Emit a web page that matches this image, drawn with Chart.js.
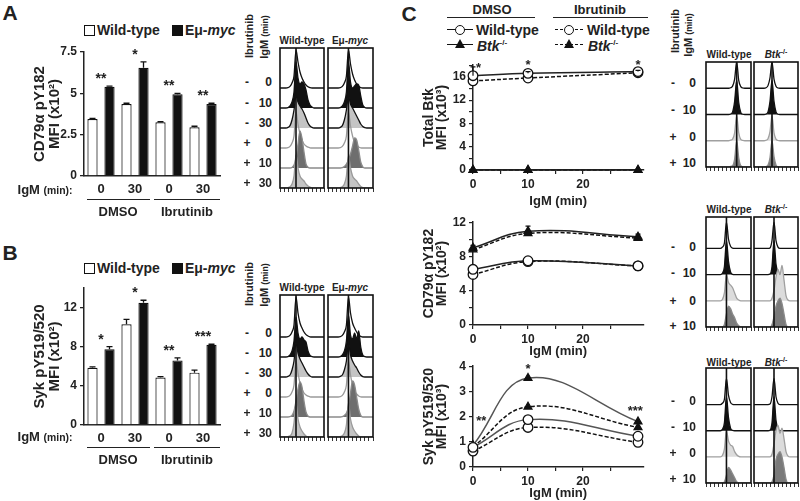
<!DOCTYPE html>
<html>
<head>
<meta charset="utf-8">
<script src="https://cdn.jsdelivr.net/npm/chart.js@4.4.1/dist/chart.umd.min.js"></script>
<style>
  body { margin: 0; background: #fff; }
  #fig { position: relative; width: 800px; height: 501px; overflow: hidden; background: #fff;
         font-family: "Liberation Sans", Arial, Helvetica, sans-serif; font-weight: bold; color: #222; }
  #fig canvas { position: absolute; }
  .t  { position: absolute; white-space: nowrap; line-height: 1; transform: translate(-50%, -50%); }
  .tl { transform: translate(0, -50%); }
  .tr { transform: translate(-100%, -50%); }
  .rot { transform: translate(-50%, -50%) rotate(-90deg); }
  .rule { position: absolute; height: 0; border-top: 1.5px solid #222; }
  .sq { display: inline-block; width: 9px; height: 9px; border: 1.3px solid #111; background: #fff;
        margin-right: 2px; vertical-align: -1px; }
  .sq.k { background: #111; margin-left: 12px; }
  .small { font-size: 0.8em; }
</style>
</head>
<body>
<div id="fig"></div>
<script>
/* ── data: bar panels A and B ───────────────────────────────────────────── */
var barLabels   = ["0", "30", "0", "30"];

var cd79WT      = [3.45, 4.35, 3.25, 2.95];
var cd79WTErr   = [0.03, 0.05, 0.03, 0.06];
var cd79Myc     = [5.4, 6.55, 4.95, 4.35];
var cd79MycErr  = [0.03, 0.35, 0.05, 0.05];
var cd79Stars   = ["**", "*", "**", "**"];

var sykWT       = [5.85, 10.3, 4.85, 5.35];
var sykWTErr    = [0.1, 0.5, 0.1, 0.25];
var sykMyc      = [7.75, 12.5, 6.6, 8.2];
var sykMycErr   = [0.25, 0.25, 0.25, 0.05];
var sykStars    = ["*", "*", "**", "***"];

/* ── data: line panels C ────────────────────────────────────────────────── */
var igmMin      = [0, 10, 30];

var btkWtDmso   = [16.2, 16.6, 16.9];
var btkWtDmsoE  = [1.5, 0.3, 0.2];
var btkKoDmso   = [0, 0, 0];
var btkWtIbr    = [15.3, 15.8, 16.7];
var btkKoIbr    = [0, 0, 0];
var btkStarX    = [1, 10, 30];
var btkStarY    = [18.0, 18.5, 18.6];
var btkStarT    = ["*", "*", "*"];

var cd79WtDmso  = [6.5, 7.5, 6.9];
var cd79KoDmso  = [9.0, 10.95, 10.3];
var cd79KoDmsoE = [0.3, 0.6, 0.3];
var cd79WtIbr   = [5.9, 7.4, 6.9];
var cd79KoIbr   = [8.8, 10.7, 10.15];

var sykWtDmso   = [0.78, 1.88, 1.22];
var sykKoDmso   = [0.86, 3.53, 1.8];
var sykWtIbr    = [0.63, 1.57, 0.98];
var sykKoIbr    = [0.8, 2.39, 1.57];
var sykStarX    = [1.5, 10, 29.5];
var sykStarY    = [1.96, 4.0, 2.36];
var sykStarT    = ["**", "*", "***"];

/* ── data: flow histograms (row heights, in row-spacing units) ──────────── */
var rowsAB = [["-", "0"], ["-", "10"], ["-", "30"], ["+", "0"], ["+", "10"], ["+", "30"]];
var rowsC  = [["-", "0"], ["-", "10"], ["+", "0"], ["+", "10"]];

var histAwt = [
  [0,0,0,0,.02,.08,.25,.6,1.9,1.3,.8,.5,.3,.15,.06,.02,0,0,0,0,0,0,0],
  [0,0,0,0,.02,.1,.3,.8,2.3,1.5,1.2,1.3,1.2,.9,.4,.15,.05,0,0,0,0,0,0],
  [0,0,0,0,.03,.12,.4,.9,1.6,1.3,1.1,.95,.75,.5,.25,.1,.03,0,0,0,0,0,0],
  [0,0,0,0,.02,.08,.25,.6,1.8,1.2,.7,.4,.2,.1,.04,.01,0,0,0,0,0,0,0],
  [0,0,0,0,0,0,.03,.15,.5,1.2,1.85,1.5,.8,.2,.04,0,0,0,0,0,0,0,0],
  [0,0,0,0,.02,.06,.2,.6,1.65,1,.6,.45,.35,.2,.1,.04,0,0,0,0,0,0,0]
];
var histAmyc = [
  [0,0,0,0,0,0,.02,.08,.25,.6,1.9,1.2,.7,.4,.2,.08,.02,0,0,0,0,0,0],
  [0,0,0,0,0,0,.02,.1,.3,.8,2.3,1.3,1,1.1,1.2,1.15,.6,.15,.03,0,0,0,0],
  [0,0,0,0,0,0,.03,.12,.4,.9,1.6,1.2,1,.8,.6,.4,.2,.08,.02,0,0,0,0],
  [0,0,0,0,0,0,.02,.08,.25,.6,1.8,1.1,.6,.3,.15,.05,.01,0,0,0,0,0,0],
  [0,0,0,0,0,0,0,.02,.08,.2,.4,.7,1.1,1.5,1.4,.9,.3,.06,0,0,0,0,0],
  [0,0,0,0,0,0,.02,.06,.2,.6,1.6,1,.6,.45,.35,.2,.08,.02,0,0,0,0,0]
];
var histBwt = [
  [0,0,0,0,.02,.08,.25,.6,2,1.2,.7,.45,.25,.12,.05,.01,0,0,0,0,0,0,0],
  [0,0,0,0,.02,.1,.3,.8,2,1.2,.9,1,.85,.75,.3,.08,.02,0,0,0,0,0,0],
  [0,0,0,0,.03,.1,.35,.8,1.7,1.2,.9,.7,.5,.3,.15,.05,0,0,0,0,0,0,0],
  [0,0,0,0,.02,.08,.25,.6,1.8,1.2,.7,.4,.2,.1,.04,.01,0,0,0,0,0,0,0],
  [0,0,0,0,0,.02,.08,.3,.8,1.4,1.75,1.5,.8,.25,.05,0,0,0,0,0,0,0,0],
  [0,0,0,0,.02,.06,.2,.7,1.7,.9,.5,.3,.15,.05,0,0,0,0,0,0,0,0,0]
];
var histBmyc = [
  [0,0,0,0,0,0,.02,.08,.25,.6,2,1.2,.7,.45,.25,.1,.03,0,0,0,0,0,0],
  [0,0,0,0,0,0,.02,.1,.3,.8,2.1,1.1,.9,1.2,.9,1.3,.5,.1,.02,0,0,0,0],
  [0,0,0,0,0,0,.03,.1,.35,.8,1.7,1.1,.8,.6,.45,.25,.1,.02,0,0,0,0,0],
  [0,0,0,0,0,0,.02,.08,.25,.6,1.8,1.1,.6,.3,.15,.05,.01,0,0,0,0,0,0],
  [0,0,0,0,0,0,0,.02,.08,.2,.5,1.2,1.8,1.6,1,.4,.08,0,0,0,0,0,0],
  [0,0,0,0,0,0,.02,.06,.2,.6,1.7,.9,.5,.3,.15,.05,0,0,0,0,0,0,0]
];
var histC1wt = [
  [0,0,0,0,0,0,0,0,0,0,0,0,.02,.08,.35,1,.3,.06,.01,0,0,0,0],
  [0,0,0,0,0,0,0,0,0,0,0,0,.02,.1,.5,1.3,.45,.08,.01,0,0,0,0],
  [0,0,0,0,0,0,0,0,0,0,0,0,.02,.06,.3,.95,.3,.05,.01,0,0,0,0],
  [0,0,0,0,0,0,0,0,0,0,0,0,.02,.05,.3,1,.35,.05,.01,0,0,0,0]
];
var histC1ko = [
  [0,0,0,0,0,0,.02,.1,.4,1,.35,.08,.01,0,0,0,0,0,0,0,0,0,0],
  [0,0,0,0,0,0,.02,.1,.5,1.3,.5,.1,.01,0,0,0,0,0,0,0,0,0,0],
  [0,0,0,0,0,0,.02,.08,.35,.95,.3,.06,.01,0,0,0,0,0,0,0,0,0,0],
  [0,0,0,0,0,0,.02,.08,.35,1,.4,.08,.01,0,0,0,0,0,0,0,0,0,0]
];
var histC2wt = [
  [0,0,0,0,0,0,0,0,.05,.2,1,.35,.08,.01,0,0,0,0,0,0,0,0,0],
  [0,0,0,0,0,0,0,0,.05,.3,1.3,.5,.1,.01,0,0,0,0,0,0,0,0,0],
  [0,0,0,0,0,0,0,0,.05,.3,1,.7,.6,.5,.3,.1,.03,0,0,0,0,0,0],
  [0,0,0,0,0,0,0,0,0,.1,.5,.8,.7,.5,.35,.15,.05,0,0,0,0,0,0]
];
var histC2ko = [
  [0,0,0,0,0,0,0,0,.02,.3,1,.3,.05,0,0,0,0,0,0,0,0,0,0],
  [0,0,0,0,0,0,0,0,.02,.3,1.3,.4,.08,0,0,0,0,0,0,0,0,0,0],
  [0,0,0,0,0,0,0,0,0,.1,.4,.9,1.2,1,1.35,.8,.2,.03,0,0,0,0,0],
  [0,0,0,0,0,0,0,0,0,.1,.4,.8,1,1.1,.9,.5,.1,0,0,0,0,0,0]
];
var histC3wt = [
  [0,0,0,0,0,0,0,0,.05,.2,1,.35,.08,.01,0,0,0,0,0,0,0,0,0],
  [0,0,0,0,0,0,0,0,.05,.3,1.3,.5,.1,.01,0,0,0,0,0,0,0,0,0],
  [0,0,0,0,0,0,0,0,.05,.3,1,.6,.45,.4,.2,.08,.02,0,0,0,0,0,0],
  [0,0,0,0,0,0,0,0,0,.05,.3,.6,.5,.35,.2,.05,0,0,0,0,0,0,0]
];
var histC3ko = [
  [0,0,0,0,0,0,0,0,.02,.3,1,.3,.05,0,0,0,0,0,0,0,0,0,0],
  [0,0,0,0,0,0,0,0,.02,.3,1.3,.4,.08,0,0,0,0,0,0,0,0,0,0],
  [0,0,0,0,0,0,0,0,0,.1,.5,1,1.2,.9,1.1,.7,.2,.03,0,0,0,0,0],
  [0,0,0,0,0,0,0,0,0,.05,.3,.9,1.1,1.2,1,.6,.15,0,0,0,0,0,0]
];

// Row styles (outline colour, fill colour) — top row first.
var stylesAB = [
  { line: "#111", fill: null },
  { line: "#111", fill: "#111" },
  { line: "#111", fill: "#c4c4c4" },
  { line: "#9a9a9a", fill: null },
  { line: "#8a8a8a", fill: "#6e6e6e" },
  { line: "#9a9a9a", fill: "#c4c4c4" }
];
var stylesC = [
  { line: "#111", fill: null },
  { line: "#111", fill: "#111" },
  { line: "#a0a0a0", fill: "#dcdcdc" },
  { line: "#8a8a8a", fill: "#7a7a7a" }
];

/* ── helpers ────────────────────────────────────────────────────────────── */
var FONT = '"Liberation Sans", Arial, Helvetica, sans-serif';
Chart.defaults.font.family = FONT;
Chart.defaults.font.weight = "bold";
Chart.defaults.color = "#222";

var fig = document.getElementById("fig");

function makeCanvas(left, top, w, h) {
  var c = document.createElement("canvas");
  c.width = w; c.height = h;
  c.style.left = left + "px"; c.style.top = top + "px";
  c.style.width = w + "px"; c.style.height = h + "px";
  fig.appendChild(c);
  return c;
}

function text(html, x, y, size, cls) {
  var d = document.createElement("div");
  d.className = "t" + (cls ? " " + cls : "");
  d.style.left = x + "px"; d.style.top = y + "px";
  d.style.fontSize = size + "px";
  d.innerHTML = html;
  fig.appendChild(d);
  return d;
}

function rule(x1, x2, y) {
  var d = document.createElement("div");
  d.className = "rule";
  d.style.left = x1 + "px"; d.style.top = y + "px"; d.style.width = (x2 - x1) + "px";
  fig.appendChild(d);
}

/* ── bar chart (panels A, B) ────────────────────────────────────────────── */
function barChart(o) {
  var cv = makeCanvas(o.left, o.top, o.width, o.height);

  // Upward error bars and significance stars, positioned through the scales.
  var marks = {
    id: "marks",
    afterDatasetsDraw: function(chart) {
      var ctx = chart.ctx, ys = chart.scales.y, xs = chart.scales.x;
      ctx.save();
      ctx.strokeStyle = "#111"; ctx.lineWidth = 1.3;
      chart.data.datasets.forEach(function(ds, di) {
        var meta = chart.getDatasetMeta(di);
        ds.data.forEach(function(v, i) {
          var e = ds.errors[i];
          var bx = meta.data[i].x;
          var y0 = ys.getPixelForValue(v), y1 = ys.getPixelForValue(v + e);
          ctx.beginPath();
          ctx.moveTo(bx, y0); ctx.lineTo(bx, y1);
          ctx.moveTo(bx - 3, y1); ctx.lineTo(bx + 3, y1);
          ctx.stroke();
        });
      });
      ctx.fillStyle = "#222";
      ctx.font = "bold 14px " + FONT;
      ctx.textAlign = "center"; ctx.textBaseline = "alphabetic";
      o.stars.forEach(function(s, i) {
        var top = 0;
        chart.data.datasets.forEach(function(ds) { top = Math.max(top, ds.data[i] + ds.errors[i]); });
        ctx.fillText(s, xs.getPixelForValue(i), ys.getPixelForValue(top) - 3);
      });
      ctx.restore();
    }
  };

  new Chart(cv, {
    type: "bar",
    data: {
      labels: barLabels,
      datasets: [
        { data: o.wt,  errors: o.wtErr,  backgroundColor: "#fff", borderColor: "#111", borderWidth: 1.2 },
        { data: o.myc, errors: o.mycErr, backgroundColor: "#111", borderColor: "#111", borderWidth: 1.2 }
      ]
    },
    options: {
      responsive: false, animation: false, events: [],
      layout: { padding: { top: o.padTop, right: o.padRight, left: 0, bottom: 0 } },
      datasets: { bar: { categoryPercentage: 1, barPercentage: 0.6 } },
      plugins: { legend: { display: false }, tooltip: { enabled: false } },
      scales: {
        x: {
          grid: { display: false, drawTicks: false },
          border: { display: true, color: "#222", width: 1.5 },
          ticks: { padding: 6, color: "#222", font: { size: 13, weight: "bold" } },
          afterFit: function(s) { s.height = o.xAxisH; }
        },
        y: {
          min: 0, max: o.yMax,
          ticks: { stepSize: o.yStep, padding: 3, color: "#222", font: { size: 12, weight: "bold" } },
          afterBuildTicks: function(s) {
            s.ticks = s.ticks.filter(function(t) { return Math.abs(t.value / o.yStep - Math.round(t.value / o.yStep)) < 1e-6; });
          },
          grid: { drawOnChartArea: false, tickLength: 4, color: "#222", lineWidth: 1.3 },
          border: { display: true, color: "#222", width: 1.5 },
          title: { display: true, text: o.yTitle, color: "#222", padding: { top: 32 },
                   font: { size: 15, weight: "bold", lineHeight: 1.0 } },
          afterFit: function(s) { s.width = o.yAxisW; }
        }
      }
    },
    plugins: [marks]
  });
}

/* ── line chart (panel C) ───────────────────────────────────────────────── */
function lineChart(o) {
  var cv = makeCanvas(o.left, o.top, o.width, o.height);

  function series(vals, dashed, tri, color) {
    return {
      data: igmMin.map(function(x, i) { return { x: x, y: vals[i] }; }),
      borderColor: color, borderWidth: 1.5, borderDash: dashed ? [4, 2] : [],
      pointStyle: tri ? "triangle" : "circle",
      pointRadius: tri ? 4.5 : 4.8,
      pointBackgroundColor: tri ? "#111" : "#fff",
      pointBorderColor: "#111", pointBorderWidth: 1.3,
      tension: 0.4, clip: false
    };
  }

  var marks = {
    id: "marks",
    afterDatasetsDraw: function(chart) {
      var ctx = chart.ctx, xs = chart.scales.x, ys = chart.scales.y;
      ctx.save();
      ctx.strokeStyle = "#111"; ctx.lineWidth = 1.2;
      o.errors.forEach(function(errs, di) {
        if (!errs) return;
        var vals = o.sets[di].vals;
        errs.forEach(function(e, i) {
          var px = xs.getPixelForValue(igmMin[i]);
          var y0 = ys.getPixelForValue(vals[i]), y1 = ys.getPixelForValue(vals[i] + e);
          ctx.beginPath();
          ctx.moveTo(px, y0); ctx.lineTo(px, y1);
          ctx.moveTo(px - 2.5, y1); ctx.lineTo(px + 2.5, y1);
          ctx.stroke();
        });
      });
      if (o.starX) {
        ctx.fillStyle = "#222";
        ctx.font = "bold 13px " + FONT;
        ctx.textAlign = "center"; ctx.textBaseline = "alphabetic";
        o.starX.forEach(function(sx, i) {
          ctx.fillText(o.starT[i], xs.getPixelForValue(sx), ys.getPixelForValue(o.starY[i]) + 7);
        });
      }
      ctx.restore();
    }
  };

  new Chart(cv, {
    type: "line",
    data: {
      datasets: o.sets.map(function(s) { return series(s.vals, s.dashed, s.tri, s.dashed ? "#111" : o.solidColor); })
    },
    options: {
      responsive: false, animation: false, events: [],
      layout: { padding: { top: o.padTop, right: o.padRight, left: 0, bottom: 0 } },
      plugins: { legend: { display: false }, tooltip: { enabled: false } },
      scales: {
        x: {
          type: "linear", min: 0, max: 31,
          ticks: {
            stepSize: 5, padding: 3, color: "#222", maxRotation: 0, autoSkip: false,
            font: { size: 12, weight: "bold" },
            callback: function(v) { return v % 10 === 0 ? v : ""; }
          },
          afterBuildTicks: function(s) { s.ticks = s.ticks.filter(function(t) { return t.value % 5 === 0; }); },
          grid: { drawOnChartArea: false, tickLength: 4, color: "#222", lineWidth: 1.2 },
          border: { display: true, color: "#222", width: 1.5 },
          title: { display: true, text: "IgM (min)", color: "#222", padding: { top: 0, bottom: o.xTitlePad },
                   font: { size: 13, weight: "bold" } },
          afterFit: function(s) { s.height = o.xAxisH; }
        },
        y: {
          min: 0, max: o.yMax,
          ticks: {
            stepSize: o.yStep, padding: 3, color: "#222", autoSkip: false,
            font: { size: 12, weight: "bold" },
            callback: function(v) { return Math.abs(v % o.yLabelStep) < 1e-6 ? v : ""; }
          },
          grid: { drawOnChartArea: false, tickLength: 4, color: "#222", lineWidth: 1.2 },
          border: { display: true, color: "#222", width: 1.5 },
          title: { display: true, text: o.yTitle, color: "#222", padding: { top: 23 },
                   font: { size: 14, weight: "bold", lineHeight: 0.9 } },
          afterFit: function(s) { s.width = o.yAxisW; }
        }
      }
    },
    plugins: [marks]
  });
}

/* ── offset flow histogram box ──────────────────────────────────────────── */
function histogram(o) {
  var n = o.rows.length;
  var cv = makeCanvas(o.x - 1, o.y - 1, o.w + 2, o.h + 6);

  var frame = {
    id: "frame",
    afterDatasetsDraw: function(chart) {
      var a = chart.chartArea, ctx = chart.ctx;
      var lx = chart.scales.x.getPixelForValue(o.lineAt);
      ctx.save();
      ctx.strokeStyle = "#111"; ctx.lineWidth = 1.6;
      ctx.beginPath(); ctx.moveTo(lx, a.top); ctx.lineTo(lx, a.bottom); ctx.stroke();
      ctx.strokeRect(a.left, a.top, a.right - a.left, a.bottom - a.top);
      ctx.restore();
    }
  };

  new Chart(cv, {
    type: "line",
    data: {
      datasets: o.rows.map(function(prof, i) {
        var base = n - 1 - i;
        var st = o.styles[i];
        return {
          data: prof.map(function(v, k) { return { x: k, y: base + v }; }),
          borderColor: st.line, borderWidth: 1.3,
          backgroundColor: st.fill || "rgba(0,0,0,0)",
          fill: st.fill ? { value: base } : false,
          pointRadius: 0, cubicInterpolationMode: "monotone",
          order: -i   // lower rows are drawn in front
        };
      })
    },
    options: {
      responsive: false, animation: false, events: [],
      layout: { padding: { left: 1, right: 1, top: 1, bottom: 0 } },
      plugins: { legend: { display: false }, tooltip: { enabled: false } },
      scales: {
        x: {
          type: "linear", min: 0, max: o.rows[0].length - 1,
          ticks: { display: false, stepSize: 2 },
          grid: { drawOnChartArea: false, tickLength: 4, color: "#333", lineWidth: 1 },
          border: { display: false },
          afterFit: function(s) { s.height = 5; }
        },
        y: { display: false, min: 0, max: o.yTop }
      }
    },
    plugins: [frame]
  });
}

function rowLabels(rows, ys, signX, numRight, size) {
  rows.forEach(function(r, i) {
    text(r[0], signX, ys[i], size);
    text(r[1], numRight, ys[i], size, "tr");
  });
}

/* ── panel A ────────────────────────────────────────────────────────────── */
text("A", 10, 12, 21);
text('<span class="sq"></span>Wild-type<span class="sq k"></span>E&mu;-<i>myc</i>', 84, 30, 14, "tl");
barChart({
  left: 0, top: 40, width: 232, height: 166, padTop: 12, padRight: 12, yAxisW: 84, xAxisH: 30,
  yMax: 7.5, yStep: 2.5, wt: cd79WT, wtErr: cd79WTErr, myc: cd79Myc, mycErr: cd79MycErr,
  stars: cd79Stars, yTitle: ["CD79\u03b1 pY182", "MFI (x10\u00b2)"]
});
text('IgM <span class="small">(min):</span>', 45, 190, 13);
rule(87, 150, 199); rule(154, 220, 199);
text("DMSO", 118, 211, 13); text("Ibrutinib", 187, 211, 13);

text("Ibrutinib", 249, 36, 11, "rot");
text('IgM <span class="small">(min)</span>', 264, 37, 11, "rot");
text("Wild-type", 302, 41, 10);
text("E&mu;-<i>myc</i>", 350, 41, 10);
histogram({ x: 280, y: 48, w: 44, h: 140, yTop: 7, rows: histAwt,  styles: stylesAB, lineAt: 8 });
histogram({ x: 328, y: 48, w: 45, h: 140, yTop: 7, rows: histAmyc, styles: stylesAB, lineAt: 10 });
rowLabels(rowsAB, [82, 103, 123, 143, 163, 183], 247, 272, 12);

/* ── panel B ────────────────────────────────────────────────────────────── */
text("B", 10, 252, 21);
text('<span class="sq"></span>Wild-type<span class="sq k"></span>E&mu;-<i>myc</i>', 84, 268, 14, "tl");
barChart({
  left: 0, top: 276, width: 232, height: 179, padTop: 12, padRight: 12, yAxisW: 84, xAxisH: 30,
  yMax: 14, yStep: 4, wt: sykWT, wtErr: sykWTErr, myc: sykMyc, mycErr: sykMycErr,
  stars: sykStars, yTitle: ["Syk pY519/520", "MFI (x10\u00b2)"]
});
text('IgM <span class="small">(min):</span>', 45, 437, 13);
rule(87, 150, 447); rule(154, 220, 447);
text("DMSO", 118, 459, 13); text("Ibrutinib", 187, 459, 13);

text("Ibrutinib", 249, 284, 11, "rot");
text('IgM <span class="small">(min)</span>', 264, 285, 11, "rot");
text("Wild-type", 302, 288, 10);
text("E&mu;-<i>myc</i>", 350, 288, 10);
histogram({ x: 280, y: 295, w: 44, h: 142, yTop: 7.1, rows: histBwt,  styles: stylesAB, lineAt: 8 });
histogram({ x: 328, y: 295, w: 45, h: 142, yTop: 7.1, rows: histBmyc, styles: stylesAB, lineAt: 10 });
rowLabels(rowsAB, [333, 353, 373, 393, 413, 433], 247, 272, 12);

/* ── panel C: legend ────────────────────────────────────────────────────── */
text("C", 409, 13, 21);
text("DMSO", 492, 9, 13); rule(447, 535, 17);
text("Ibrutinib", 600, 9, 13); rule(553, 648, 17);

function legendSample(x1, x2, y, dashed, tri) {
  var l = document.createElement("div");
  l.style.cssText = "position:absolute;left:" + x1 + "px;top:" + (y - 1) + "px;width:" + (x2 - x1) +
    "px;height:0;border-top:1.6px " + (dashed ? "dashed" : "solid") + " #111;";
  fig.appendChild(l);
  var m = document.createElement("div");
  var cx = (x1 + x2) / 2;
  if (tri) {
    m.style.cssText = "position:absolute;left:" + (cx - 5) + "px;top:" + (y - 6) + "px;width:0;height:0;" +
      "border-left:5px solid transparent;border-right:5px solid transparent;border-bottom:9px solid #111;";
  } else {
    m.style.cssText = "position:absolute;left:" + (cx - 5) + "px;top:" + (y - 5) + "px;width:8px;height:8px;" +
      "border:1.3px solid #111;border-radius:50%;background:#fff;";
  }
  fig.appendChild(m);
}
legendSample(447, 473, 30, false, false);
legendSample(447, 473, 45, false, true);
legendSample(555, 583, 30, true, false);
legendSample(555, 583, 45, true, true);
text("Wild-type", 476, 30, 14, "tl");
text("<i>Btk</i><sup style='font-size:8px'>-/-</sup>", 477, 46, 14, "tl");
text("Wild-type", 587, 30, 14, "tl");
text("<i>Btk</i><sup style='font-size:8px'>-/-</sup>", 588, 46, 14, "tl");

/* ── panel C: line charts ───────────────────────────────────────────────── */
lineChart({
  left: 400, top: 55, width: 250, height: 155, padTop: 9, padRight: 6.5, yAxisW: 73, xAxisH: 40, xTitlePad: 1,
  yMax: 18, yStep: 2, yLabelStep: 4, solidColor: "#222",
  yTitle: ["Total Btk", "MFI (x10\u00b3)"],
  sets: [
    { vals: btkWtDmso, dashed: false, tri: false },
    { vals: btkKoDmso, dashed: false, tri: true },
    { vals: btkWtIbr,  dashed: true,  tri: false },
    { vals: btkKoIbr,  dashed: true,  tri: true }
  ],
  errors: [btkWtDmsoE, null, null, null],
  starX: btkStarX, starY: btkStarY, starT: btkStarT
});
lineChart({
  left: 400, top: 212, width: 250, height: 148, padTop: 9, padRight: 6.5, yAxisW: 73, xAxisH: 35, xTitlePad: 1,
  yMax: 12, yStep: 2, yLabelStep: 4, solidColor: "#222",
  yTitle: ["CD79\u03b1 pY182", "MFI (x10\u00b2)"],
  sets: [
    { vals: cd79WtDmso, dashed: false, tri: false },
    { vals: cd79KoDmso, dashed: false, tri: true },
    { vals: cd79WtIbr,  dashed: true,  tri: false },
    { vals: cd79KoIbr,  dashed: true,  tri: true }
  ],
  errors: [null, cd79KoDmsoE, null, null]
});
lineChart({
  left: 400, top: 356, width: 250, height: 145, padTop: 9, padRight: 6.5, yAxisW: 73, xAxisH: 34, xTitlePad: 0,
  yMax: 4, yStep: 1, yLabelStep: 1, solidColor: "#555",
  yTitle: ["Syk pY519/520", "MFI (x10\u00b3)"],
  sets: [
    { vals: sykWtDmso, dashed: false, tri: false },
    { vals: sykKoDmso, dashed: false, tri: true },
    { vals: sykWtIbr,  dashed: true,  tri: false },
    { vals: sykKoIbr,  dashed: true,  tri: true }
  ],
  errors: [null, null, null, null],
  starX: sykStarX, starY: sykStarY, starT: sykStarT
});

/* ── panel C: histograms ────────────────────────────────────────────────── */
text("Ibrutinib", 675, 31, 11, "rot");
text('IgM <span class="small">(min)</span>', 688, 35, 11, "rot");

var btkHead = "<i>Btk</i><sup style='font-size:7px'>-/-</sup>";
text("Wild-type", 729, 55, 10); text(btkHead, 776, 54, 10);
histogram({ x: 706, y: 62,  w: 45, h: 105, yTop: 4.0, rows: histC1wt, styles: stylesC, lineAt: 15 });
histogram({ x: 754, y: 62,  w: 44, h: 105, yTop: 4.0, rows: histC1ko, styles: stylesC, lineAt: 9 });
rowLabels(rowsC, [83, 110, 137, 163], 673, 696, 12);

text("Wild-type", 729, 210, 10); text(btkHead, 776, 209, 10);
histogram({ x: 706, y: 217, w: 45, h: 110, yTop: 4.2, rows: histC2wt, styles: stylesC, lineAt: 10 });
histogram({ x: 754, y: 217, w: 44, h: 110, yTop: 4.2, rows: histC2ko, styles: stylesC, lineAt: 10 });
rowLabels(rowsC, [247, 273, 301, 326], 673, 696, 12);

text("Wild-type", 729, 363, 10); text(btkHead, 776, 362, 10);
histogram({ x: 706, y: 368, w: 45, h: 115, yTop: 4.4, rows: histC3wt, styles: stylesC, lineAt: 10 });
histogram({ x: 754, y: 368, w: 44, h: 115, yTop: 4.4, rows: histC3ko, styles: stylesC, lineAt: 10 });
rowLabels(rowsC, [401, 427, 453, 479], 673, 696, 12);
</script>
</body>
</html>
